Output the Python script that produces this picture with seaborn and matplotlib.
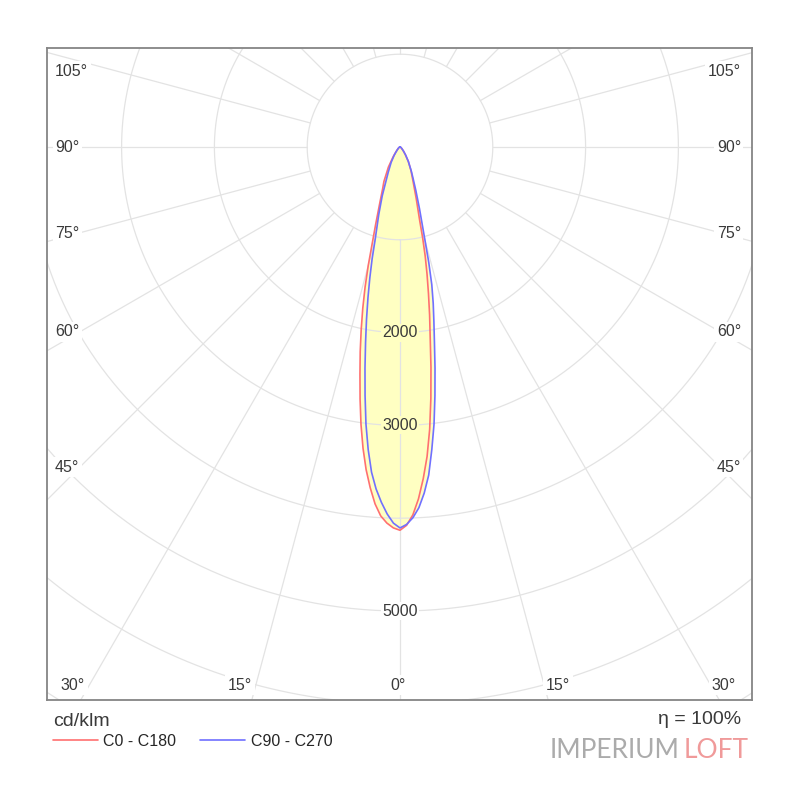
import numpy as np
import matplotlib
matplotlib.use('Agg')
import matplotlib.pyplot as plt
import seaborn as sns

# polar angles (deg from nadir) and intensities (cd/klm)
angles = [0, 1, 2, 3, 4, 5, 6, 7, 8, 9, 10, 11, 12, 13, 14, 15,
          17.5, 20, 22.5, 25, 30, 35, 40, 45, 60, 75, 90]
c0 = [4130, 4077, 3967, 3798, 3585, 3348, 3059, 2729, 2398, 2081, 1837, 1608, 1402, 1208, 1010, 820,
      580, 430, 340, 280, 180, 100, 60, 35, 12, 4, 0]
c180 = [4130, 4105, 4055, 3980, 3855, 3685, 3495, 3270, 3020, 2750, 2485, 2247, 2011, 1783, 1555, 1322,
        870, 630, 490, 410, 250, 130, 70, 40, 15, 5, 0]
c90 = [4105, 4068, 3997, 3892, 3739, 3549, 3279, 3009, 2705, 2412, 2137, 1914, 1721, 1523, 1280, 1038,
       700, 500, 370, 290, 180, 105, 60, 36, 15, 5, 0]
c270 = [4105, 4054, 3957, 3834, 3694, 3518, 3279, 3009, 2705, 2412, 2137, 1891, 1660, 1444, 1241, 1038,
        760, 560, 390, 300, 190, 110, 60, 38, 15, 5, 0]

rings = [1000, 2000, 3000, 4000, 5000, 6000, 7000]
ring_labels = [2000, 3000, 5000]
side_labels = ['105°', '90°', '75°', '60°', '45°']
bottom_labels = ['30°', '15°', '0°', '15°', '30°']

sns.set_style('white')
plt.rcParams['font.family'] = ['Liberation Sans', 'DejaVu Sans']

# layout in pixels (800x800 canvas)
L, R, T, B = 47, 752, 48, 700
CX, CY = 400, 147
SCALE = 92.8 / 1000
W = 800
fx = lambda px: px / W
fy = lambda py: 1 - py / W

fig = plt.figure(figsize=(8, 8), dpi=100)
ax = fig.add_axes([fx(L), fy(B), (R - L) / W, (B - T) / W])
ax.set_xlim((L - CX) / SCALE, (R - CX) / SCALE)
ax.set_ylim((B - CY) / SCALE, (T - CY) / SCALE)

FILL = '#ffffc2'
GRID = '#e3e3e3'
RED = '#ff7070'
BLUE = '#7070ff'
TXT = '#3a3a3a'


def to_xy(left, right):
    a = np.array(angles, dtype=float)
    th = np.deg2rad(np.concatenate([-a[::-1], a[1:]]))
    inten = np.concatenate([np.array(left[::-1], dtype=float), np.array(right[1:], dtype=float)])
    return inten * np.sin(th), inten * np.cos(th)


xr, yr = to_xy(c180, c0)
xb, yb = to_xy(c270, c90)

ax.fill(xr, yr, color=FILL, lw=0, zorder=1)
ax.fill(xb, yb, color=FILL, lw=0, zorder=1)

# grid: rings and spokes
t = np.linspace(0, 2 * np.pi, 721)
for r in rings:
    ax.plot(r * np.sin(t), r * np.cos(t), color=GRID, lw=0.9, zorder=2)
for a in range(0, 360, 15):
    th = np.deg2rad(a)
    ax.plot([1000 * np.sin(th), 9000 * np.sin(th)], [1000 * np.cos(th), 9000 * np.cos(th)],
            color=GRID, lw=0.9, zorder=2)

sns.lineplot(x=xr, y=yr, sort=False, estimator=None, color=RED, lw=1.2, ax=ax, label='C0 - C180', zorder=4)
sns.lineplot(x=xb, y=yb, sort=False, estimator=None, color=BLUE, lw=1.2, ax=ax, label='C90 - C270', zorder=4)

# ring labels
peak = max(max(c0), max(c90))
for v in ring_labels:
    bg = FILL if v < peak else 'white'
    ax.text(0, v, str(v), ha='center', va='center', fontsize=11.5, color=TXT, zorder=5,
            bbox=dict(boxstyle='square,pad=0.1', fc=bg, ec='none'))

# angle labels
side_y = [71, 148, 233, 332, 467]
for lab, py in zip(side_labels, side_y):
    fig.text(fx(55), fy(py), lab, ha='left', va='center', fontsize=11.5, color=TXT, zorder=5,
             bbox=dict(boxstyle='square,pad=0.15', fc='white', ec='none'))
    fig.text(fx(741), fy(py), lab, ha='right', va='center', fontsize=11.5, color=TXT, zorder=5,
             bbox=dict(boxstyle='square,pad=0.15', fc='white', ec='none'))
bottom_x = [73, 240, 398, 558, 724]
for lab, px in zip(bottom_labels, bottom_x):
    fig.text(fx(px), fy(685), lab, ha='center', va='center', fontsize=11.5, color=TXT, zorder=5,
             bbox=dict(boxstyle='square,pad=0.15', fc='white', ec='none'))

ax.set_xticks([])
ax.set_yticks([])
ax.set_xlabel('')
ax.set_ylabel('')
for s in ax.spines.values():
    s.set_color('#858585')
    s.set_linewidth(1.3)

ax.legend(loc='upper left', bbox_to_anchor=(fx(53), fy(734)), bbox_transform=fig.transFigure,
          ncol=2, frameon=False, fontsize=11.5, handlelength=2.8, handletextpad=0.35,
          columnspacing=1.5, borderpad=0, borderaxespad=0)

fig.text(fx(53), fy(722), 'cd/klm', ha='left', va='center', fontsize=14, color=TXT)
fig.text(fx(741), fy(720), 'η = 100%', ha='right', va='center', fontsize=14, color=TXT)

fig.text(fx(680), fy(751), 'IMPERIUM', ha='right', va='center', fontsize=19, color='#ababab',
         family='Lato')
fig.text(fx(684), fy(751), 'LOFT', ha='left', va='center', fontsize=19, color='#f09a9a',
         family='Lato')

fig.savefig('out.png', dpi=100, facecolor='white')
